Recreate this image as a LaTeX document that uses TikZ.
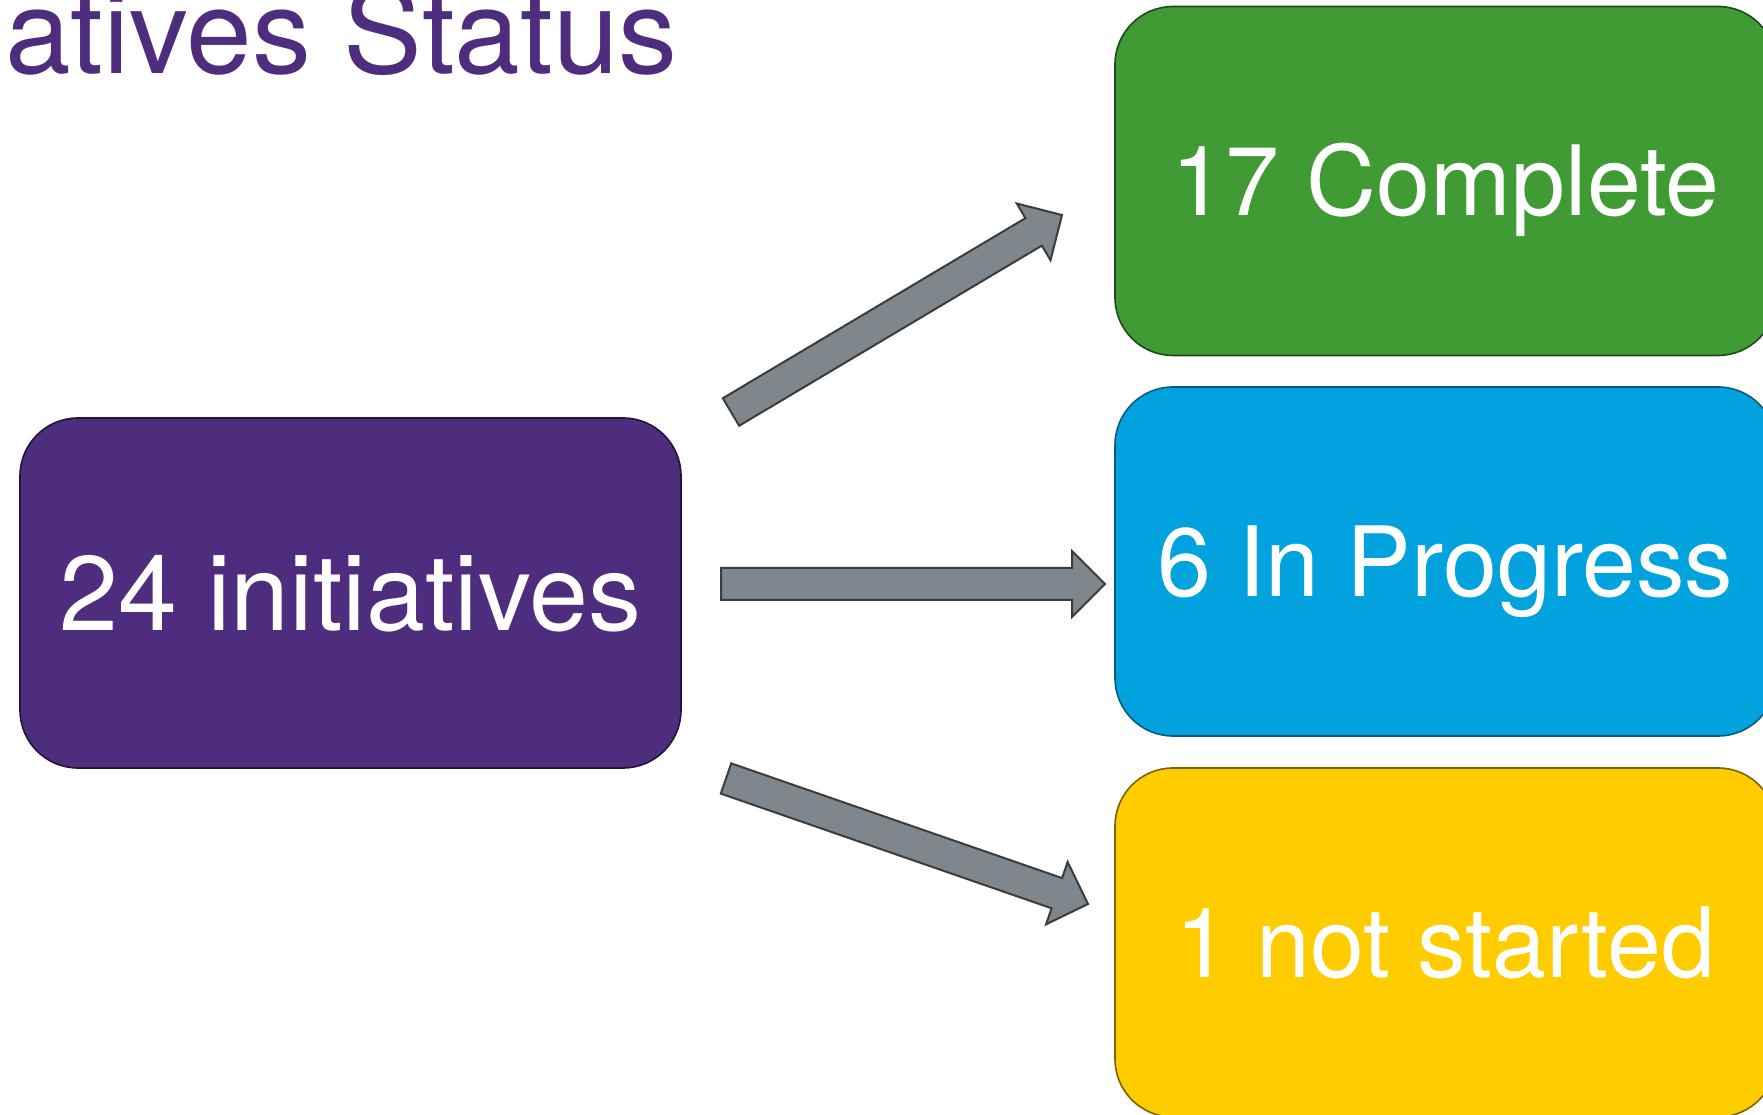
\documentclass[tikz,border=0pt]{standalone}
\usepackage{fontspec}
\setmainfont{TeX Gyre Heros}
\usetikzlibrary{calc}
\definecolor{ipurple}{HTML}{4F2D7E}
\definecolor{ipurpleD}{HTML}{24143A}
\definecolor{igreen}{HTML}{409B35}
\definecolor{igreenD}{HTML}{1E4A19}
\definecolor{iblue}{HTML}{02A2DF}
\definecolor{iblueD}{HTML}{0B5A7C}
\definecolor{iyellow}{HTML}{FFCC00}
\definecolor{iyellowD}{HTML}{7A6300}
\definecolor{agray}{HTML}{7F878C}
\definecolor{aline}{HTML}{3A3C3D}
\newcommand\blockarrow[2]{%
  \path ($(#2)!33pt!(#1)$) coordinate (ba);
  \draw[arrowstyle] ($(#1)!16pt!90:(#2)$) -- ($(ba)!16pt!-90:(#1)$) -- ($(ba)!33pt!-90:(#1)$) -- (#2)
    -- ($(ba)!33pt!90:(#1)$) -- ($(ba)!16pt!90:(#1)$) -- ($(#1)!16pt!-90:(#2)$) -- cycle;
}
\begin{document}
\begin{tikzpicture}[x=1pt,y=1pt,
  box/.style={draw, line width=1.6pt, rounded corners=58pt, minimum width=661pt,
    minimum height=349pt, text=white, inner sep=0pt, text depth=0pt},
  bigtext/.style={font=\fontsize{106}{120}\selectfont, text height=76pt},
  smalltext/.style={font=\fontsize{97}{110}\selectfont, text height=69.5pt},
  arrowstyle/.style={fill=agray, draw=aline, line width=2pt, line join=miter}]
\useasboundingbox (0,0) rectangle (1763,1114);
\node[anchor=base west, inner sep=0pt, text=ipurple, font=\fontsize{118}{130}\selectfont] (title) at (5,1040) {atives Status};
\node[box, bigtext, fill=ipurple, draw=ipurpleD, minimum height=350pt] (init) at (350.5,521) {24 initiatives};
\node[box, smalltext, fill=igreen, draw=igreenD] (done) at (1445.5,933) {17 Complete};
\node[box, smalltext, fill=iblue, draw=iblueD] (prog) at (1445.5,552.5) {6 In Progress};
\node[box, smalltext, fill=iyellow, draw=iyellowD] (nots) at (1445.5,171.5) {1 not started};
\coordinate (t1) at (731,702);
\coordinate (h1) at (1062,899);
\coordinate (t2) at (721,530);
\coordinate (h2) at (1105,530);
\coordinate (t3) at (726,335.5);
\coordinate (h3) at (1088,210);
\blockarrow{t1}{h1}
\blockarrow{t2}{h2}
\blockarrow{t3}{h3}
\end{tikzpicture}
\end{document}
